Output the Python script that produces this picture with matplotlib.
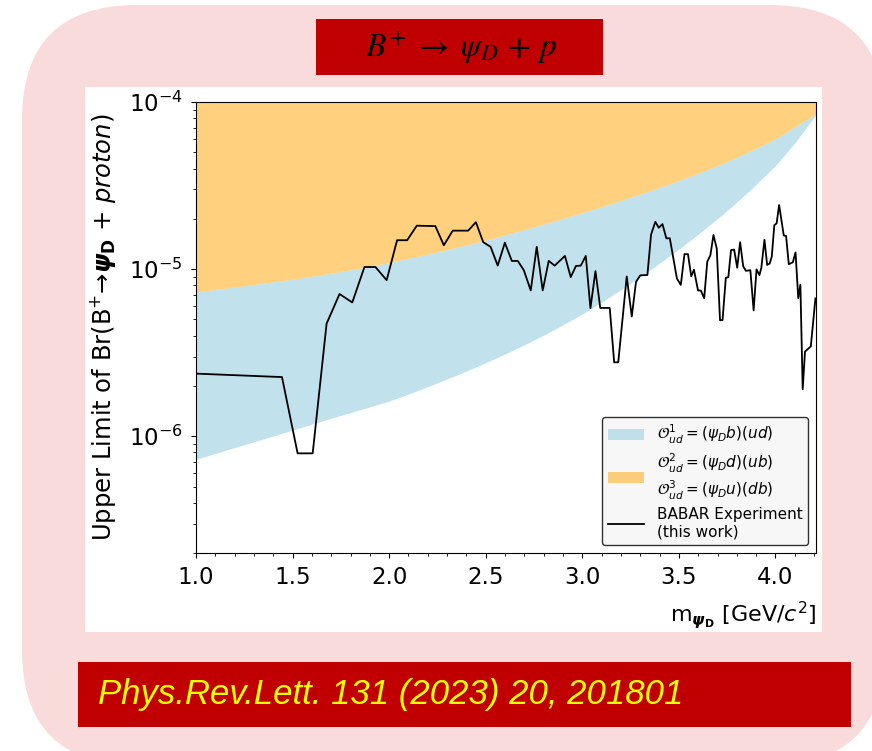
import numpy as np
import matplotlib.pyplot as plt
from matplotlib.patches import FancyBboxPatch, Rectangle
from matplotlib.ticker import AutoMinorLocator
import matplotlib.transforms as mtrans

# BABAR upper limit on Br(B+ -> psi_D + p) vs dark-baryon mass
mass = [1.000, 1.445, 1.526, 1.604, 1.676, 1.743, 1.809, 1.872, 1.929, 1.987,
        2.041, 2.093, 2.143, 2.239, 2.283, 2.329, 2.409, 2.449, 2.487, 2.525,
        2.562, 2.599, 2.635, 2.666, 2.697, 2.733, 2.764, 2.795, 2.826, 2.857,
        2.910, 2.940, 2.967, 2.992, 3.018, 3.042, 3.068, 3.093, 3.142, 3.165,
        3.186, 3.230, 3.256, 3.278, 3.300, 3.337, 3.356, 3.378, 3.396, 3.415,
        3.435, 3.453, 3.490, 3.510, 3.529, 3.547, 3.564, 3.578, 3.599, 3.614,
        3.631, 3.647, 3.663, 3.679, 3.696, 3.713, 3.726, 3.743, 3.756, 3.770,
        3.786, 3.802, 3.817, 3.833, 3.847, 3.870, 3.887, 3.902, 3.917, 3.927,
        3.943, 3.957, 3.970, 3.981, 3.994, 4.006, 4.019, 4.043, 4.055, 4.069,
        4.090, 4.104, 4.118, 4.129, 4.141, 4.153, 4.183, 4.207]
limit = [2.37e-6, 2.26e-6, 7.9e-7, 7.9e-7, 4.72e-6, 7.1e-6, 6.32e-6, 1.03e-5, 1.03e-5, 8.59e-6,
         1.49e-5, 1.49e-5, 1.82e-5, 1.81e-5, 1.39e-5, 1.70e-5, 1.70e-5, 1.91e-5, 1.45e-5, 1.36e-5,
         1.05e-5, 1.44e-5, 1.12e-5, 1.12e-5, 9.86e-6, 7.46e-6, 1.36e-5, 7.46e-6, 1.12e-5, 1.05e-5,
         1.20e-5, 8.96e-6, 1.045e-5, 1.05e-5, 1.20e-5, 5.84e-6, 9.73e-6, 5.86e-6, 5.86e-6, 2.77e-6,
         2.77e-6, 9.04e-6, 5.21e-6, 8.39e-6, 9.18e-6, 9.23e-6, 1.61e-5, 1.92e-5, 1.77e-5, 1.86e-5,
         1.53e-5, 1.53e-5, 8.77e-6, 8.05e-6, 1.23e-5, 1.23e-5, 9.06e-6, 9.93e-6, 7.46e-6, 7.44e-6,
         6.69e-6, 1.11e-5, 1.21e-5, 1.60e-5, 1.33e-5, 4.95e-6, 4.95e-6, 8.87e-6, 8.96e-6, 1.30e-5,
         1.31e-5, 1.02e-5, 1.45e-5, 1.04e-5, 9.77e-6, 9.86e-6, 5.66e-6, 9.97e-6, 9.21e-6, 1.02e-5,
         1.50e-5, 1.06e-5, 1.08e-5, 1.19e-5, 1.83e-5, 1.88e-5, 2.42e-5, 1.59e-5, 1.58e-5, 1.07e-5,
         1.10e-5, 1.26e-5, 6.71e-6, 8.08e-6, 1.91e-6, 3.21e-6, 3.45e-6, 6.68e-6]

# theory bands
band_mass = [1.0, 1.125, 1.25, 1.375, 1.5, 1.625, 1.75, 1.875, 2.0, 2.125, 2.25, 2.375,
             2.5, 2.625, 2.75, 2.875, 3.0, 3.125, 3.25, 3.375, 3.5, 3.625, 3.75, 3.875,
             4.0, 4.1, 4.21]
o1_low = [7.28e-7, 8.05e-7, 8.91e-7, 9.84e-7, 1.089e-6, 1.205e-6, 1.334e-6, 1.469e-6,
          1.622e-6, 1.832e-6, 2.089e-6, 2.388e-6, 2.754e-6, 3.206e-6, 3.758e-6, 4.477e-6,
          5.395e-6, 6.62e-6, 8.22e-6, 1.035e-5, 1.318e-5, 1.706e-5, 2.239e-5, 3.02e-5,
          4.169e-5, 5.69e-5, 8.41e-5]
o23_low = [7.31e-6, 7.62e-6, 7.96e-6, 8.32e-6, 8.71e-6, 9.16e-6, 9.68e-6, 1.028e-5,
           1.096e-5, 1.178e-5, 1.268e-5, 1.374e-5, 1.493e-5, 1.633e-5, 1.791e-5, 1.972e-5,
           2.178e-5, 2.415e-5, 2.692e-5, 3.013e-5, 3.388e-5, 3.855e-5, 4.406e-5, 5.13e-5,
           6.03e-5, 7.1e-5, 8.51e-5]
o23_high = [1e-4] * len(band_mass)

fig = plt.figure(figsize=(8.72, 7.51), dpi=100)

# slide background
pink = '#f9dbdc'
bg = FancyBboxPatch((22, -14), 863, 760, boxstyle='round,pad=0,rounding_size=115',
                    transform=mtrans.IdentityTransform(), facecolor=pink, edgecolor='none', zorder=0)
fig.patches.append(bg)
fig.patches.append(Rectangle((0.0975, 0.1585), 0.8452, 0.7257, transform=fig.transFigure,
                             facecolor='white', edgecolor='none', zorder=1))
fig.patches.append(Rectangle((0.3624, 0.9001), 0.3291, 0.0746, transform=fig.transFigure,
                             facecolor='#c00000', edgecolor='none', zorder=1))
fig.patches.append(Rectangle((0.0894, 0.032), 0.8865, 0.0866, transform=fig.transFigure,
                             facecolor='#c00000', edgecolor='none', zorder=1))
fig.text(0.529, 0.937, r'$B^{+}\;\rightarrow\;\psi_{D}\,+\,p$', fontsize=24, color='black',
         ha='center', va='center', math_fontfamily='stix', zorder=3)
fig.text(0.1124, 0.0752, 'Phys.Rev.Lett. 131 (2023) 20, 201801', fontsize=25, color='#ffff00',
         style='italic', family=['Liberation Sans Narrow', 'Liberation Sans'],
         ha='left', va='center', zorder=3)

ax = fig.add_axes([0.2248, 0.2636, 0.711, 0.6005])
ax.set_zorder(2)
ax.fill_between(band_mass, o1_low, o23_low, color='lightblue', alpha=0.75, lw=0,
                label=r'$\mathcal{O}^{1}_{ud} = (\psi_D b)(ud)$')
ax.fill_between(band_mass, o23_low, o23_high, color='orange', alpha=0.5, lw=0,
                label='$\\mathcal{O}^{2}_{ud} = (\\psi_D d)(ub)$\n$\\mathcal{O}^{3}_{ud} = (\\psi_D u)(db)$')
ax.plot(mass, limit, color='black', lw=1.3, label='BABAR Experiment\n(this work)')

ax.set_yscale('log')
ax.set_xlim(1.0, 4.21)
ax.set_ylim(2e-7, 1e-4)
ax.xaxis.set_minor_locator(AutoMinorLocator(5))
ax.tick_params(labelsize=16.5, pad=6)
ax.set_xlabel(r'm$_{\boldsymbol{\psi}_{\mathbf{D}}}$ [GeV/$c^2$]', fontsize=16, loc='right', labelpad=7)
ax.set_ylabel(r'Upper Limit of Br(B$^{+}$→$\boldsymbol{\psi}_{\mathbf{D}}$ + $\it{proton}$)',
              fontsize=17.5, labelpad=8)
ax.legend(loc='lower right', fontsize=11, handlelength=2.4, labelspacing=0.35, fancybox=True,
          framealpha=1, facecolor='#f7f7f7', edgecolor='#333333')

fig.savefig('out.png', dpi=100)
